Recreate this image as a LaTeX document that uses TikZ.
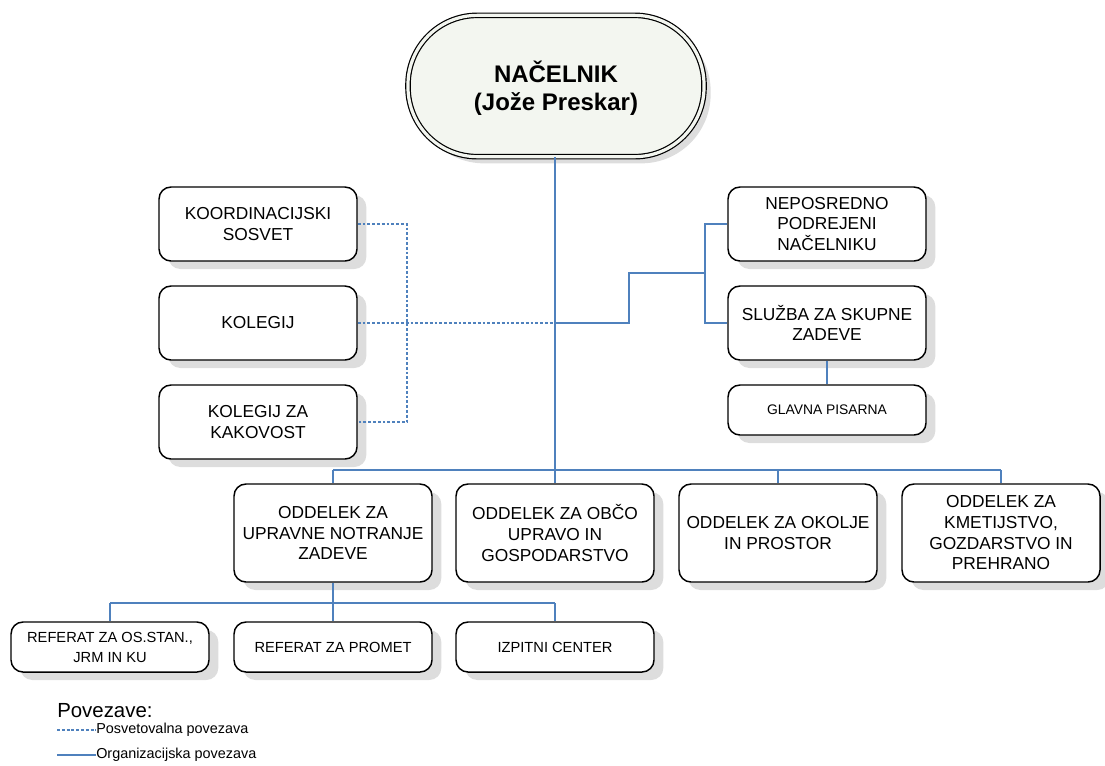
\documentclass[tikz,border=0pt]{standalone}
\usepackage{fontspec}
\setmainfont{Liberation Sans}
\usetikzlibrary{shadows}

\definecolor{linkblue}{RGB}{79,129,189}
\definecolor{headfill}{RGB}{243,246,240}
\definecolor{shade}{RGB}{221,221,221}

\tikzset{
  unit/.style={draw, line width=1.1pt, rounded corners=9pt, fill=white,
    minimum width=148.5pt, minimum height=55.5pt, align=center, inner sep=2pt,
    font=\fontsize{13}{15.5}\selectfont,
    drop shadow={shadow xshift=7pt, shadow yshift=-6pt, fill=shade, opacity=1}},
  dept/.style={unit, minimum height=73.5pt},
  small/.style={unit, minimum height=37.5pt, font=\fontsize{11}{15}\selectfont},
  head/.style={draw, line width=0.9pt, double=headfill, double distance=2.4pt,
    fill=headfill, rounded corners=52pt, minimum width=222pt, minimum height=106pt,
    align=center, font=\bfseries\fontsize{18}{21}\selectfont,
    drop shadow={shadow xshift=5pt, shadow yshift=-5pt, fill=shade, opacity=1}},
  org/.style={draw=linkblue, line width=1.3pt},
  posv/.style={draw=linkblue, line width=1.3pt, dash pattern=on 2.2pt off 1.4pt},
  legtext/.style={anchor=west, inner sep=0pt, font=\fontsize{10.8}{12}\selectfont}
}

\begin{document}
\begin{tikzpicture}[x=0.75pt, y=-0.75pt]
    \useasboundingbox (0,0) rectangle (1105,765);

    % top: head
    \node [head] (nac) at (556,86) {\rule{0pt}{19pt}NAČELNIK\\(Jože Preskar)};

    % left column: advisory bodies
    \node [unit] (koo) at (258,224) {KOORDINACIJSKI\\SOSVET};
    \node [unit] (kol) at (258,323) {KOLEGIJ};
    \node [unit] (kak) at (258,422) {KOLEGIJ ZA\\KAKOVOST};

    % right column
    \node [unit]  (nep) at (827,224) {NEPOSREDNO\\PODREJENI\\NAČELNIKU};
    \node [unit]  (slu) at (827,323) {SLUŽBA ZA SKUPNE\\ZADEVE};
    \node [small, font=\fontsize{10.4}{13}\selectfont] (gla) at (827,410) {GLAVNA PISARNA};

    % row of departments
    \node [dept] (odd1) at (333,533) {ODDELEK ZA\\UPRAVNE NOTRANJE\\ZADEVE};
    \node [dept] (odd2) at (555,533) {ODDELEK ZA OBČO\\UPRAVO IN\\GOSPODARSTVO};
    \node [dept] (odd3) at (778,533) {ODDELEK ZA OKOLJE\\IN PROSTOR};
    \node [dept] (odd4) at (1001,533) {ODDELEK ZA\\KMETIJSTVO,\\GOZDARSTVO IN\\PREHRANO};

    % row of units below the first department
    \node [small] (ref1) at (110,647) {REFERAT ZA OS.STAN.,\\JRM IN KU};
    \node [small] (ref2) at (333,647) {REFERAT ZA PROMET};
    \node [small] (ref3) at (555,647) {IZPITNI CENTER};

    % helper points
    \coordinate (bus)  at (555,470);
    \coordinate (rbus) at (333,603);
    \coordinate (trunk) at (555,323);
    \coordinate (jog)  at (629,273);
    \coordinate (fork) at (705,273);
    \coordinate (dot)  at (407,323);

    % organizational links
    \draw [org] (nac.south -| bus) -- (bus);
    \draw [org] (bus -| odd1) -- (bus -| odd4);
    \foreach \d in {odd1,odd2,odd3,odd4}
        \draw [org] (bus -| \d) -- (\d.north);
    \draw [org] (trunk) -| (jog) -- (fork);
    \draw [org] (nep.west) -| (fork) |- (slu.west);
    \draw [org] (slu.south) -- (gla.north);
    \draw [org] (odd1.south) -- (rbus);
    \draw [org] (rbus -| ref1) -- (rbus -| ref3);
    \foreach \r in {ref1,ref2,ref3}
        \draw [org] (rbus -| \r) -- (\r.north);

    % advisory links
    \draw [posv] (koo.east) -| (dot) |- (kak.east);
    \draw [posv] (kol.east) -- (trunk);

    % legend
    \node [anchor=west, inner sep=0pt, font=\fontsize{15.3}{17}\selectfont] (leg) at (57,711) {Povezave:};
    \node [legtext] (lposv) at (96,730) {Posvetovalna povezava};
    \node [legtext] (lorg)  at (96,755) {Organizacijska povezava};
    \coordinate (lp0) at (57,730);
    \coordinate (lo0) at (57,755);
    \draw [posv] (lp0) -- (lposv.west);
    \draw [org]  (lo0) -- (lorg.west);
\end{tikzpicture}
\end{document}
